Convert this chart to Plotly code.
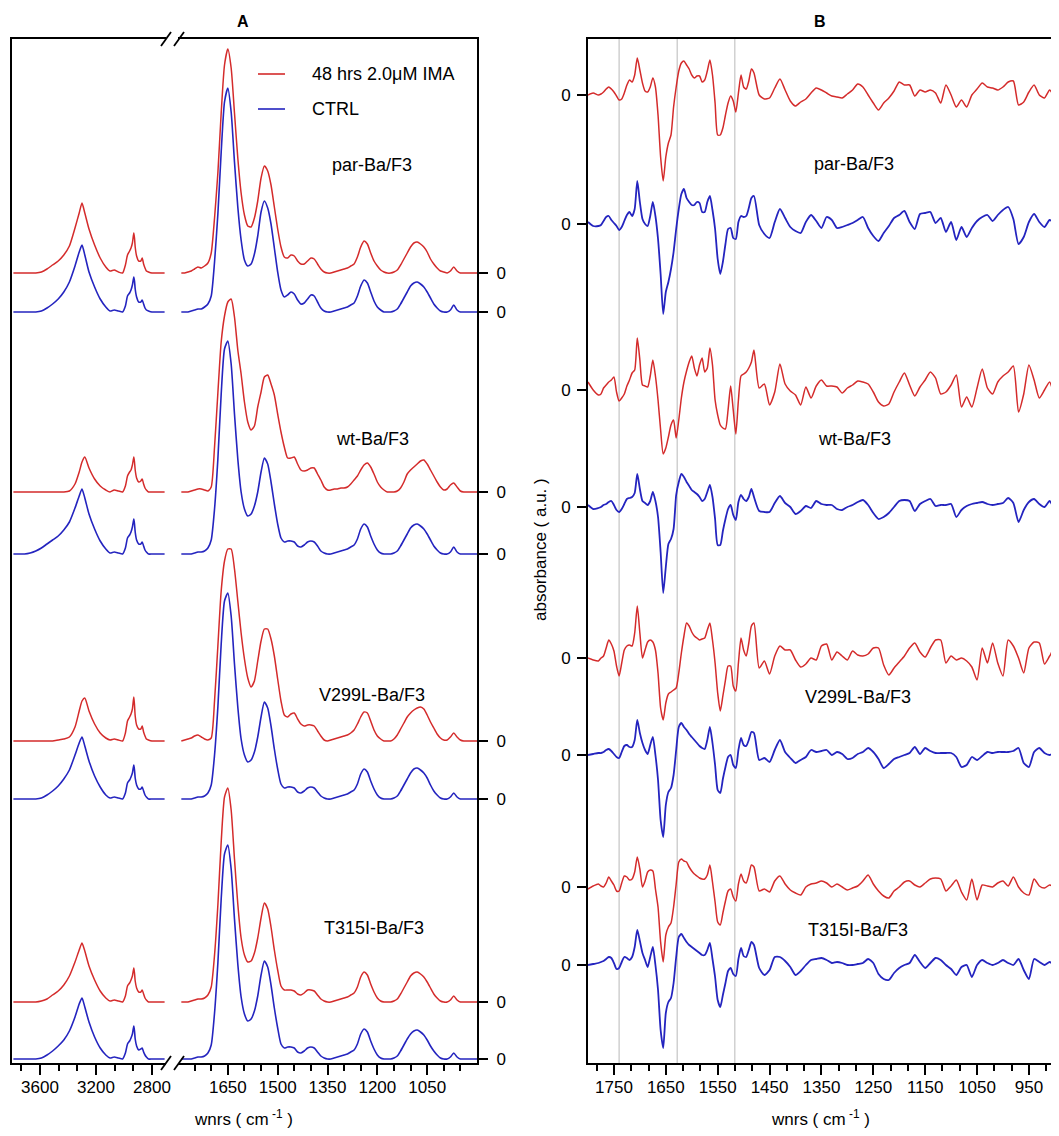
import plotly.graph_objects as go

# ---------------- figure geometry ----------------
# The page body has an 8 px margin, so the figure is drawn 8 px smaller and
# all reference pixel positions are shifted by that amount.
REF_W, REF_H = 1059, 1136
BODY = 8
W, H = REF_W - BODY, REF_H - BODY
PLOT_TOP, PLOT_BOT = 39, 1063          # reference pixel rows of plot area
MT, MB = PLOT_TOP - BODY, REF_H - PLOT_BOT
PH = PLOT_BOT - PLOT_TOP               # 1 y-unit = 1 px

RED = "#d42b2b"
BLUE = "#2424bf"
FONT = "Liberation Sans, Arial, sans-serif"

SAMPLES = ["par-Ba/F3", "wt-Ba/F3", "V299L-Ba/F3", "T315I-Ba/F3"]
LEGEND = ["48 hrs 2.0\u03bcM IMA", "CTRL"]

# ---------------- panel A : absorbance spectra ----------------
WN_A_LEFT = [3790, 3750, 3710, 3670, 3630, 3590, 3550, 3510, 3470, 3430,
             3390, 3350, 3320, 3300, 3280, 3250, 3210, 3170, 3130, 3100,
             3070, 3040, 3010, 2990, 2975, 2960, 2950, 2940, 2930, 2925,
             2920, 2910, 2895, 2880, 2870, 2860, 2850, 2840, 2825, 2800,
             2770, 2740, 2710]

WN_A_RIGHT = [1790, 1780, 1770, 1760, 1750, 1740, 1730, 1720, 1710, 1700,
              1690, 1680, 1670, 1660, 1650, 1640, 1630, 1620, 1610, 1600,
              1590, 1580, 1570, 1560, 1550, 1540, 1530, 1520, 1510, 1500,
              1490, 1480, 1470, 1460, 1450, 1440, 1430, 1420, 1410, 1400,
              1390, 1380, 1370, 1360, 1350, 1340, 1330, 1320, 1310, 1300,
              1290, 1280, 1270, 1260, 1250, 1240, 1230, 1220, 1210, 1200,
              1190, 1180, 1170, 1160, 1150, 1140, 1130, 1120, 1110, 1100,
              1090, 1080, 1070, 1060, 1050, 1040, 1030, 1020, 1010, 1000,
              990, 980, 970, 960, 950, 940, 930, 920, 910, 900]

# high-wavenumber segment (3800-2700)
A_PAR_IMA_L = [0, 0, 0, 0, 0, 1, 4, 8, 12, 18,
               27, 45, 60, 70, 60, 44, 28, 15, 6, 2,
               3, 1, 0, 8, 18, 22, 25, 30, 40, 35,
               26, 17, 12, 12, 15, 9, 5, 2, 1, 0,
               0, 0, 0]
A_PAR_CTRL_L = [0, 0, 0, 0, 0, 1, 4, 8, 13, 20,
                30, 46, 60, 67, 57, 40, 25, 13, 5, 1,
                2, 1, 0, 6, 16, 19, 22, 27, 35, 31,
                23, 15, 10, 10, 12, 8, 4, 2, 1, 0,
                0, 0, 0]
A_WT_IMA_L = [0, 0, 0, 0, 0, 0, 0, 0, 0, 0,
              1, 8, 20, 30, 35, 24, 13, 6, 2, 0,
              2, 1, 0, 6, 16, 20, 22, 27, 35, 30,
              22, 14, 10, 11, 13, 8, 4, 2, 0, 0,
              0, 0, 0]
A_WT_CTRL_L = [0, 0, 0, 1, 3, 6, 10, 14, 18, 24,
               32, 46, 58, 65, 56, 40, 25, 13, 5, 1,
               2, 1, 0, 6, 16, 19, 22, 27, 35, 30,
               22, 14, 10, 10, 12, 8, 4, 2, 0, 0,
               0, 0, 0]
A_V299L_IMA_L = [0, 0, 0, 0, 0, 0, 0, 0, 1, 2,
                 4, 14, 30, 40, 43, 30, 17, 8, 3, 1,
                 2, 1, 0, 8, 20, 24, 27, 32, 44, 36,
                 25, 16, 12, 12, 15, 9, 5, 2, 1, 0,
                 0, 0, 0]
A_V299L_CTRL_L = [0, 0, 0, 0, 0, 1, 4, 8, 13, 20,
                  29, 44, 56, 62, 53, 38, 23, 12, 4, 1,
                  2, 1, 0, 6, 16, 19, 22, 26, 34, 29,
                  21, 14, 10, 10, 12, 8, 4, 2, 0, 0,
                  0, 0, 0]
A_T315I_IMA_L = [0, 0, 0, 0, 0, 1, 3, 7, 11, 17,
                 26, 40, 52, 59, 51, 36, 22, 11, 4, 1,
                 2, 1, 0, 6, 16, 19, 22, 26, 34, 29,
                 21, 14, 10, 10, 12, 8, 4, 2, 0, 0,
                 0, 0, 0]
A_T315I_CTRL_L = [0, 0, 0, 0, 0, 1, 4, 8, 13, 19,
                  28, 42, 55, 61, 52, 37, 22, 11, 4, 1,
                  2, 1, 0, 6, 15, 18, 21, 25, 33, 28,
                  20, 13, 9, 10, 11, 7, 4, 2, 0, 0,
                  0, 0, 0]

# fingerprint segment (1800-900)
A_PAR_IMA_R = [0, 0, 1, 2, 4, 6, 5, 7, 10, 20,
               55, 100, 160, 208, 224, 205, 160, 115, 80, 58,
               47, 46, 55, 72, 95, 107, 102, 88, 66, 44,
               26, 16, 15, 18, 17, 12, 9, 9, 12, 15,
               14, 9, 4, 1, 0, 0, 1, 2, 3, 4,
               5, 7, 9, 16, 26, 32, 29, 20, 12, 7,
               3, 1, 0, 0, 1, 3, 8, 14, 20, 26,
               30, 31, 29, 26, 21, 14, 9, 5, 2, 1,
               0, 2, 6, 2, 0, 0, 0, 0, 0, 0]
A_PAR_CTRL_R = [0, 0, 0, 1, 2, 3, 3, 5, 8, 16,
                50, 98, 160, 210, 224, 200, 150, 105, 72, 52,
                46, 48, 58, 76, 100, 111, 104, 88, 64, 40,
                22, 15, 17, 20, 18, 12, 8, 9, 13, 17,
                16, 10, 4, 1, 0, 0, 1, 2, 3, 4,
                5, 7, 9, 16, 26, 32, 29, 20, 11, 5,
                2, 0, 0, 0, 1, 3, 8, 14, 20, 26,
                29, 30, 28, 25, 20, 14, 8, 4, 1, 0,
                0, 2, 7, 2, 0, 0, 0, 0, 0, 0]
A_WT_IMA_R = [0, 0, 0, 1, 2, 3, 3, 2, 1, 5,
              45, 99, 150, 176, 190, 193, 175, 142, 118, 90,
              70, 62, 66, 85, 100, 115, 117, 108, 97, 78,
              60, 45, 34, 34, 35, 28, 22, 21, 22, 24,
              24, 18, 12, 5, 2, 2, 3, 3, 4, 4,
              5, 8, 12, 16, 22, 27, 29, 25, 18, 10,
              5, 2, 0, 0, 0, 1, 4, 10, 18, 22,
              25, 28, 31, 32, 28, 22, 16, 10, 5, 2,
              3, 7, 9, 5, 1, 0, 0, 0, 0, 0]
A_WT_CTRL_R = [0, 0, 0, 0, 1, 2, 2, 3, 6, 14,
               45, 95, 160, 205, 213, 190, 140, 95, 62, 45,
               38, 40, 48, 62, 82, 96, 90, 72, 50, 30,
               16, 12, 13, 13, 12, 8, 7, 9, 12, 13,
               12, 8, 3, 1, 0, 0, 1, 2, 3, 4,
               5, 7, 9, 15, 25, 30, 27, 18, 10, 4,
               1, 0, 0, 0, 1, 3, 8, 14, 20, 26,
               29, 30, 28, 25, 20, 14, 8, 4, 1, 0,
               0, 2, 7, 2, 0, 0, 0, 0, 0, 0]
A_V299L_IMA_R = [0, 1, 2, 3, 5, 6, 4, 2, 1, 3,
                 40, 95, 150, 180, 192, 192, 172, 140, 108, 82,
                 63, 54, 60, 80, 100, 112, 112, 102, 85, 62,
                 40, 26, 24, 27, 28, 22, 17, 15, 16, 16,
                 15, 10, 5, 1, 0, 1, 2, 3, 4, 5,
                 6, 8, 11, 17, 24, 29, 28, 20, 11, 5,
                 2, 0, 0, 0, 2, 6, 12, 18, 24, 28,
                 31, 33, 34, 32, 26, 19, 13, 7, 3, 1,
                 1, 4, 8, 4, 1, 0, 0, 0, 0, 0]
A_V299L_CTRL_R = [0, 0, 0, 0, 1, 2, 2, 3, 6, 14,
                  44, 92, 155, 198, 206, 183, 135, 92, 60, 44,
                  37, 39, 47, 62, 82, 97, 91, 73, 50, 30,
                  15, 11, 12, 12, 11, 7, 6, 8, 11, 12,
                  11, 7, 3, 1, 0, 0, 1, 2, 3, 4,
                  5, 7, 9, 15, 25, 30, 27, 18, 10, 4,
                  1, 0, 0, 0, 1, 3, 8, 14, 20, 26,
                  30, 31, 29, 26, 21, 14, 8, 4, 1, 0,
                  0, 2, 6, 2, 0, 0, 0, 0, 0, 0]
A_T315I_IMA_R = [0, 0, 0, 1, 2, 3, 3, 4, 7, 15,
                 47, 97, 160, 205, 214, 192, 143, 98, 64, 47,
                 40, 41, 49, 64, 84, 99, 93, 75, 52, 32,
                 16, 12, 12, 12, 11, 8, 7, 9, 12, 12,
                 11, 7, 3, 1, 0, 0, 1, 2, 3, 4,
                 5, 7, 9, 15, 25, 30, 27, 18, 10, 4,
                 1, 0, 0, 0, 1, 3, 8, 14, 20, 26,
                 29, 30, 28, 25, 20, 14, 8, 4, 1, 0,
                 0, 2, 6, 2, 0, 0, 0, 0, 0, 0]
A_T315I_CTRL_R = [0, 0, 0, 0, 1, 2, 2, 3, 6, 14,
                  46, 96, 160, 205, 214, 190, 140, 95, 62, 45,
                  38, 40, 48, 63, 84, 98, 92, 74, 51, 31,
                  15, 11, 12, 12, 11, 7, 6, 8, 11, 12,
                  11, 7, 3, 1, 0, 0, 1, 2, 3, 4,
                  5, 7, 9, 15, 25, 30, 27, 18, 10, 4,
                  1, 0, 0, 0, 1, 3, 8, 14, 20, 25,
                  28, 29, 27, 24, 19, 13, 8, 4, 1, 0,
                  0, 2, 6, 2, 0, 0, 0, 0, 0, 0]

# ---------------- panel B : second-derivative spectra ----------------
WN_B = [1800, 1790,
        1780, 1775, 1770, 1765, 1760, 1755, 1750, 1745, 1740, 1735,
        1730, 1725, 1720, 1715, 1710, 1705, 1700, 1695, 1690, 1685,
        1680, 1675, 1670, 1665, 1660, 1655, 1650, 1645, 1640, 1635,
        1630, 1625, 1620, 1615, 1610, 1605, 1600, 1595, 1590, 1585,
        1580, 1575, 1570, 1565, 1560, 1555, 1550, 1545, 1540, 1535,
        1530, 1525, 1520, 1515, 1510, 1505, 1500, 1495, 1490, 1485,
        1480,
        1470, 1460, 1450, 1440, 1430, 1420, 1410, 1400, 1390, 1380,
        1370, 1360, 1350, 1340, 1330, 1320, 1310, 1300, 1290, 1280,
        1270, 1260, 1250, 1240, 1230, 1220, 1210, 1200, 1190, 1180,
        1170, 1160, 1150, 1140, 1130, 1120, 1110, 1100, 1090, 1080,
        1070, 1060, 1050, 1040, 1030, 1020, 1010, 1000, 990, 980,
        970, 960, 950, 940, 930, 920, 910, 900, 890]

B_PAR_IMA = [0, 2,
             0, 1, 3, 6, 8, 6, 3, -1, -5, -4,
             2, 10, 15, 13, 20, 37, 25, 12, 4, 3,
             8, 17, 8, -20, -62, -86, -62, -48, -40, -12,
             8, 24, 32, 34, 30, 26, 20, 17, 19, 19,
             13, 15, 24, 35, 20, -8, -40, -40, -33, -20,
             -8, -1, -6, -17, 2, 20, 8, 6, 14, 26,
             22,
             0, -4, -3, 7, 16, 5, -6, -11, -7, -4,
             2, 7, 5, 2, -1, -2, -3, 1, 5, 11,
             8, 0, -8, -15, -8, -3, 4, 13, 10, 10,
             -1, 5, 3, 5, 2, -8, 10, 0, -12, -5,
             -12, 0, 6, 12, 8, 7, 5, 8, 13, 14,
             -10, -7, 3, 10, 0, -3, 5, -2, 0]
B_PAR_CTRL = [2, -2,
              -2, -1, 3, 7, 8, 4, 1, -2, -6, -3,
              3, 9, 12, 8, 15, 43, 22, 5, 0, -2,
              8, 22, 8, -15, -50, -90, -68, -58, -45, -28,
              -5, 15, 30, 35, 26, 22, 19, 19, 22, 21,
              12, 12, 22, 28, 14, -5, -35, -50, -38, -20,
              -5, -4, -14, -15, 2, 8, 7, 8, 16, 26,
              28,
              -1, -10, -14, 2, 15, 6, -3, -7, -9, 2,
              9, 3, -4, 7, 4, -4, -3, -1, 1, 4,
              7, -4, -12, -17, -9, -2, 6, 9, 13, 2,
              -5, 10, 11, 12, 1, 6, -8, 2, -16, -3,
              -13, -4, 3, 7, 9, 3, 9, 14, 17, 5,
              -20, -13, 2, 10, 2, -3, 4, 1, 2]
B_WT_IMA = [8, 0,
            -5, -4, 2, 5, 8, 10, 13, -2, -11, -8,
            -4, 4, 10, 17, 20, 52, 30, 5, 4, 3,
            14, 30, 14, -10, -40, -64, -58, -47, -35, -30,
            -48, -30, -8, 8, 19, 28, 34, 22, 14, 25,
            32, 18, 22, 42, 25, -10, -25, -35, -38, -39,
            -20, 4, -20, -44, -10, 14, 16, 18, 22, 28,
            40,
            2, 6, -15, -2, 26, 6, -1, -5, -15, 3,
            -8, 4, 10, 4, 4, 3, -3, 2, 5, 9,
            8, 6, -2, -12, -16, -14, -2, 8, 17, 5,
            -6, 3, 10, 18, 12, -4, -2, 5, 15, -17,
            -7, -17, 2, 21, 2, -4, 8, 14, 18, 24,
            -22, -4, 25, 10, -8, 0, 8, -5, 2]
B_WT_CTRL = [2, -2,
             -1, 0, 2, 3, 5, 6, 2, -3, -5, -2,
             3, 8, 9, 10, 14, 33, 18, 6, 4, 2,
             6, 15, 6, -10, -45, -86, -60, -37, -32, -22,
             12, 25, 33, 30, 25, 21, 17, 15, 13, 10,
             6, 8, 15, 22, 10, -12, -38, -38, -24, -12,
             -2, 2, -8, -13, 5, 12, 8, 6, 10, 18,
             10,
             -4, -5, -5, 4, 11, 4, 0, -7, -4, 1,
             -1, 6, 3, 2, 2, -2, -3, 0, 2, 5,
             7, 2, -6, -12, -10, -6, 0, 6, 7, 6,
             -4, 3, 6, 8, 1, 2, 2, 3, -10, -3,
             1, 3, 4, 5, 3, 2, 3, 4, 9, 4,
             -15, -3, 5, 8, 3, 0, 6, -2, 3]
B_V299L_IMA = [0, -2,
               -3, 0, 2, 10, 18, 14, 7, -8, -18, -5,
               8, 12, 13, 12, 25, 52, 25, 0, 8, 16,
               18, 16, 8, -15, -50, -62, -45, -36, -34, -32,
               -30, -15, 5, 22, 35, 32, 26, 22, 20, 18,
               19, 20, 28, 35, 18, -5, -35, -53, -38, -22,
               -8, -8, -28, -33, -5, 20, 8, 2, 15, 32,
               35,
               -10, -3, -16, 2, 12, 8, 8, -2, -9, -6,
               0, -2, 12, 14, -2, 6, 2, -2, 7, 3,
               2, 4, 10, 10, -7, -17, -10, -4, 2, 10,
               15, 6, 1, 10, 18, 18, -5, 2, -2, 0,
               -3, -9, -22, 10, -5, 15, -5, -18, 18, 12,
               0, -15, 10, 16, 15, -6, 2, 10, 0]
B_V299L_CTRL = [0, 1,
                2, 2, 3, 5, 6, 4, 1, -2, -3, 3,
                9, 10, 8, 8, 15, 35, 22, 12, 5, 1,
                10, 18, 0, -25, -65, -82, -50, -37, -33, -20,
                5, 28, 32, 28, 25, 21, 18, 15, 12, 9,
                7, 6, 15, 28, 12, -10, -35, -38, -24, -12,
                -2, 0, -10, -13, 5, 17, 10, 9, 15, 23,
                22,
                -5, -3, -7, 5, 15, 3, -3, -8, -5, -2,
                5, 3, 4, 5, 0, 3, 1, -4, -3, 1,
                3, 7, 3, -4, -13, -9, -4, -2, 0, 2,
                8, 1, 7, 4, 2, 2, 2, 2, -2, -12,
                -10, -2, -5, -1, 3, 2, 3, 3, 3, 4,
                7, -8, -12, 3, 7, 2, 0, 2, 0]
B_T315I_IMA = [-2, 1,
               3, 1, 0, 4, 10, 6, 2, -4, -4, 4,
               11, 10, 7, 8, 15, 30, 18, 0, 6, 15,
               17, 16, -2, -20, -55, -75, -48, -40, -36, -20,
               3, 25, 28, 26, 25, 20, 16, 13, 11, 9,
               8, 8, 12, 22, 5, -15, -35, -38, -26, -14,
               -4, -2, -10, -14, 3, 13, 6, 4, 12, 22,
               20,
               -4, -2, -5, 6, 11, 3, -3, -6, -8, 0,
               3, 4, 6, 4, 0, 3, 0, -3, -1, 1,
               6, 12, 3, -4, -9, -11, -4, 0, 5, 6,
               2, 0, 4, 8, 9, 8, -4, 1, 7, -5,
               -13, 8, -13, 2, 1, 0, 4, 6, 1, 10,
               0, -6, -8, 8, 1, -1, 2, 0, 1]
B_T315I_CTRL = [0, 1,
                2, 3, 4, 6, 8, 7, 2, -4, -3, 3,
                8, 7, 5, 8, 18, 35, 24, 12, 5, -2,
                8, 18, 0, -25, -65, -83, -48, -37, -33, -18,
                8, 28, 31, 27, 23, 20, 18, 16, 14, 12,
                10, 10, 15, 22, 6, -12, -35, -42, -30, -18,
                -6, -3, -9, -11, 6, 17, 9, 8, 15, 23,
                20,
                -3, -10, -5, 8, 8, 4, -2, -10, -6, 0,
                5, 6, 7, 5, 2, 3, 2, 0, 0, 1,
                2, 6, 2, -9, -14, -15, -8, -3, 0, 2,
                10, 3, -3, 2, 7, 5, 0, -4, -10, -2,
                0, -12, 0, 5, 2, 0, 2, 5, 2, 0,
                6, -5, -14, 6, 3, 0, 3, 0, 2]

A_IMA_L = [A_PAR_IMA_L, A_WT_IMA_L, A_V299L_IMA_L, A_T315I_IMA_L]
A_CTRL_L = [A_PAR_CTRL_L, A_WT_CTRL_L, A_V299L_CTRL_L, A_T315I_CTRL_L]
A_IMA_R = [A_PAR_IMA_R, A_WT_IMA_R, A_V299L_IMA_R, A_T315I_IMA_R]
A_CTRL_R = [A_PAR_CTRL_R, A_WT_CTRL_R, A_V299L_CTRL_R, A_T315I_CTRL_R]
B_IMA = [B_PAR_IMA, B_WT_IMA, B_V299L_IMA, B_T315I_IMA]
B_CTRL = [B_PAR_CTRL, B_WT_CTRL, B_V299L_CTRL, B_T315I_CTRL]

for arr in A_IMA_L + A_CTRL_L:
    if len(arr) != len(WN_A_LEFT):
        raise ValueError("left length %d" % len(arr))
for arr in A_IMA_R + A_CTRL_R:
    if len(arr) != len(WN_A_RIGHT):
        raise ValueError("right length %d" % len(arr))
for arr in B_IMA + B_CTRL:
    if len(arr) != len(WN_B):
        raise ValueError("B length %d" % len(arr))

# ---------------- layout constants (vertical stacking offsets) ----------------
A_OFF_IMA = [790, 571, 322, 61]
A_OFF_CTRL = [751, 509, 264, 4]
B_OFF_IMA = [968, 673, 405, 176]
B_OFF_CTRL = [839, 556, 308, 98]

GUIDE_WN = [1740, 1628, 1517]


def px(x):
    """reference pixel column -> paper x"""
    return (x - BODY) / W


def py(y):
    """reference pixel row -> paper y"""
    return (PLOT_BOT - y) / PH


fig = go.Figure()


def add(xs, ys, off, color, xa, ya, lw):
    fig.add_trace(go.Scatter(
        x=xs, y=[off + v for v in ys], mode="lines",
        line=dict(color=color, width=lw, shape="spline", smoothing=0.6),
        xaxis=xa, yaxis=ya, showlegend=False, hoverinfo="skip"))


for i in range(4):
    add(WN_A_LEFT, A_IMA_L[i], A_OFF_IMA[i], RED, "x", "y", 1.5)
    add(WN_A_LEFT, A_CTRL_L[i], A_OFF_CTRL[i], BLUE, "x", "y", 1.6)
    add(WN_A_RIGHT, A_IMA_R[i], A_OFF_IMA[i], RED, "x2", "y2", 1.5)
    add(WN_A_RIGHT, A_CTRL_R[i], A_OFF_CTRL[i], BLUE, "x2", "y2", 1.6)
    add(WN_B, B_IMA[i], B_OFF_IMA[i], RED, "x3", "y3", 1.5)
    add(WN_B, B_CTRL[i], B_OFF_CTRL[i], BLUE, "x3", "y3", 1.8)

tickfont = dict(family=FONT, size=17, color="black")
axis_common = dict(showline=True, linecolor="black", linewidth=2,
                   showgrid=False, zeroline=False, tickfont=tickfont,
                   tickcolor="black", tickwidth=1.5)
minor_common = dict(ticks="outside", ticklen=6, tickwidth=1.5, tickcolor="black",
                    tickmode="array")

minor_B = []
for m in [1850, 1750, 1650, 1550, 1450, 1350, 1250, 1150, 1050, 950]:
    for d in (100 / 3, 200 / 3):
        v = m - d
        if 892 < v < 1800:
            minor_B.append(v)

fig.update_layout(
    width=W, height=H,
    margin=dict(l=0, r=0, t=MT, b=MB, autoexpand=False),
    paper_bgcolor="white", plot_bgcolor="white",
    showlegend=False,
    font=dict(family=FONT, size=17, color="black"),
    xaxis=dict(domain=[px(12), px(166)], range=[3800, 2700], anchor="y",
               mirror=True, ticks="outside", ticklen=10, ticklabelstandoff=-2,
               tickvals=[3600, 3200, 2800],
               minor=dict(tickvals=[3733.33, 3466.67, 3333.33, 3066.67, 2933.33],
                          **minor_common),
               **axis_common),
    xaxis2=dict(domain=[px(178), px(477)], range=[1800, 900], anchor="y2",
                mirror=True, ticks="outside", ticklen=10, ticklabelstandoff=-2,
                tickvals=[1650, 1500, 1350, 1200, 1050],
                minor=dict(tickvals=[1750, 1700, 1600, 1550, 1450, 1400, 1300, 1250,
                                     1150, 1100, 1000, 950],
                           **minor_common),
                **axis_common),
    yaxis=dict(domain=[0, 1], range=[0, PH], anchor="x", ticks="",
               showticklabels=False, **axis_common),
    yaxis2=dict(domain=[0, 1], range=[0, PH], anchor="x2", side="right",
                ticks="outside", ticklen=9, ticklabelstandoff=5,
                tickvals=A_OFF_IMA + A_OFF_CTRL, ticktext=["0"] * 8,
                **axis_common),
    xaxis3=dict(domain=[px(588), 1], range=[1800, 892], anchor="y3",
                mirror=True, ticks="outside", ticklen=10, ticklabelstandoff=-2,
                tickvals=[1750, 1650, 1550, 1450, 1350, 1250, 1150, 1050, 950],
                minor=dict(tickvals=minor_B, **minor_common),
                **axis_common),
    yaxis3=dict(domain=[0, 1], range=[0, PH], anchor="x3", side="left",
                ticks="outside", ticklen=9, ticklabelstandoff=3,
                tickvals=B_OFF_IMA + B_OFF_CTRL, ticktext=["0"] * 8,
                **axis_common),
)

shapes = []
# guide lines in panel B
for g in GUIDE_WN:
    shapes.append(dict(type="line", xref="x3", yref="paper", x0=g, x1=g, y0=0, y1=1,
                       line=dict(color="#c9c9c9", width=1.3), layer="below"))
# axis-break marks in panel A
for ycen in (PLOT_TOP, PLOT_BOT):
    for xc in (166, 179):
        shapes.append(dict(type="line", xref="paper", yref="paper",
                           x0=px(xc - 5), x1=px(xc + 5),
                           y0=py(ycen + 7), y1=py(ycen - 7),
                           line=dict(color="black", width=1.8)))
# legend samples
for yl, col in ((74, RED), (109, BLUE)):
    shapes.append(dict(type="line", xref="paper", yref="paper",
                       x0=px(258), x1=px(285), y0=py(yl), y1=py(yl),
                       line=dict(color=col, width=1.6)))
fig.update_layout(shapes=shapes)

ann = []


def text(x, y, s, size=18, bold=False, xanchor="center", angle=0):
    ann.append(dict(x=px(x), y=py(y), xref="paper", yref="paper",
                    text=("<b>%s</b>" % s) if bold else s,
                    showarrow=False, xanchor=xanchor, yanchor="middle", textangle=angle,
                    font=dict(family=FONT, size=size, color="black")))


text(243, 21, "A", size=16, bold=True)
text(820, 21, "B", size=16, bold=True)
text(310, 74, LEGEND[0], xanchor="left")
text(310, 109, LEGEND[1], xanchor="left")

A_LABEL_XY = [(372, 165), (372, 439), (372, 695), (374, 928)]
B_LABEL_XY = [(854, 164), (854, 439), (858, 697), (858, 930)]
for s, (x, y) in zip(SAMPLES, A_LABEL_XY):
    text(x, y, s)
for s, (x, y) in zip(SAMPLES, B_LABEL_XY):
    text(x, y, s)

text(243, 1118, "wnrs ( cm<sup> -1</sup> )", size=17)
text(820, 1118, "wnrs ( cm<sup> -1</sup> )", size=17)
text(540, 550, "absorbance ( a.u. )", size=17, angle=-90)
fig.update_layout(annotations=ann)

fig.write_html("out.html")
